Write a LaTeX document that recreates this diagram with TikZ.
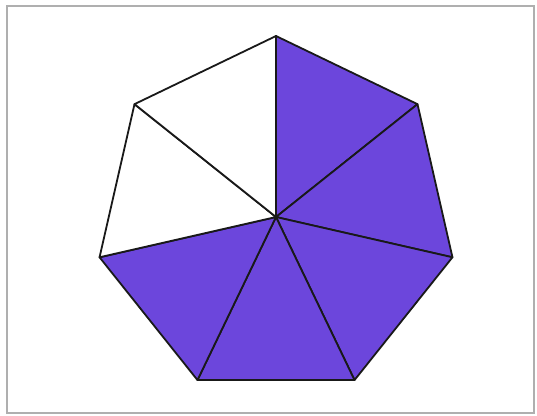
\documentclass[tikz,border=0pt]{standalone}
\usepackage{tikz}
\usetikzlibrary{calc}
\definecolor{purp}{RGB}{108,70,220}
\definecolor{frame}{RGB}{175,175,175}
\tikzset{
  wedge/.style={draw=black!90, line width=1.8pt, line join=round},
  filled/.style={wedge, fill=purp},
  blank/.style={wedge, fill=white}
}
\begin{document}
\begin{tikzpicture}[x=1pt,y=-1pt]
\useasboundingbox (0,0) rectangle (537,415);
\draw[frame, line width=1.6pt] (7,6) rectangle (534,413);
\coordinate (c) at (276,217);
\foreach \k in {0,...,6} {
  \coordinate (v\k) at ({276+181*sin(\k*360/7)},{217-181*cos(\k*360/7)});
}
\foreach \a/\b in {0/1,1/2,2/3,3/4,4/5} {
  \draw[filled] (c) -- (v\a) -- (v\b) -- cycle;
}
\foreach \a/\b in {5/6,6/0} {
  \draw[blank] (c) -- (v\a) -- (v\b) -- cycle;
}
\end{tikzpicture}
\end{document}
